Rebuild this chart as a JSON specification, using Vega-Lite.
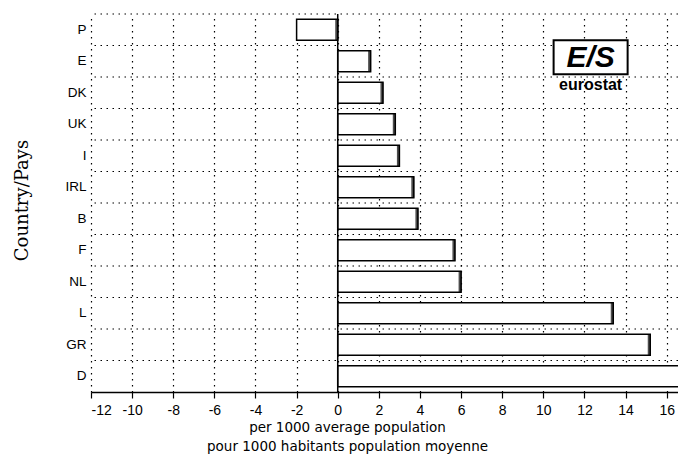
{
  "$schema": "https://vega.github.io/schema/vega-lite/v6.json",
  "width": 587,
  "height": 378,
  "autosize": {"type": "none"},
  "padding": {"left": 91, "top": 14, "right": 0, "bottom": 66},
  "background": "white",
  "data": {
    "values": [
      {"country": "P", "value": -2.0},
      {"country": "E", "value": 1.6},
      {"country": "DK", "value": 2.2},
      {"country": "UK", "value": 2.8},
      {"country": "I", "value": 3.0},
      {"country": "IRL", "value": 3.7},
      {"country": "B", "value": 3.9},
      {"country": "F", "value": 5.7},
      {"country": "NL", "value": 6.0},
      {"country": "L", "value": 13.4},
      {"country": "GR", "value": 15.2},
      {"country": "D", "value": 17.5}
    ]
  },
  "config": {
    "view": {"stroke": null},
    "axis": {
      "labelFont": "Liberation Sans",
      "labelColor": "black",
      "labelFontSize": 13.5,
      "titleColor": "black"
    }
  },
  "layer": [
    {
      "mark": {"type": "rule", "color": "black", "strokeDash": [1.5, 4.5], "strokeWidth": 1.2},
      "encoding": {
        "y": {"field": "country", "type": "nominal", "bandPosition": 0, "sort": null}
      }
    },
    {
      "mark": {"type": "bar", "fill": "white", "stroke": "black", "strokeWidth": 1.5, "height": {"band": 0.67}, "clip": true},
      "encoding": {
        "y": {
          "field": "country", "type": "nominal", "sort": null,
          "scale": {"type": "band", "paddingInner": 0, "paddingOuter": 0},
          "axis": {
            "title": "Country/Pays",
            "titleFont": "DejaVu Serif",
            "titleFontSize": 18,
            "titleFontWeight": "normal",
            "titleX": -69,
            "titleY": 186,
            "titleAlign": "center",
            "titleBaseline": "middle",
            "titleAngle": -90,
            "domain": false,
            "ticks": false,
            "labelPadding": 5
          }
        },
        "x": {
          "field": "value", "type": "quantitative",
          "scale": {"domain": [-12, 16.55], "nice": false, "zero": false},
          "axis": {
            "values": [-12, -10, -8, -6, -4, -2, 0, 2, 4, 6, 8, 10, 12, 14, 16],
            "labelExpr": "toString(datum.value)",
            "labelFontSize": 14,
            "grid": true,
            "gridColor": "black",
            "gridDash": [1.5, 4.5],
            "gridWidth": 1.2,
            "gridOpacity": 1,
            "domainColor": "black",
            "domainWidth": 1.5,
            "tickColor": "black",
            "tickSize": 6,
            "tickWidth": 1.2,
            "labelPadding": 5,
            "title": ["per 1000 average population", "pour 1000 habitants population moyenne"],
            "titleFont": "DejaVu Sans",
            "titleFontSize": 13.5,
            "titleFontWeight": "normal",
            "titleX": 256,
            "titleY": 28,
            "titleAlign": "center",
            "titleBaseline": "top",
            "titleLineHeight": 19
          }
        }
      }
    },
    {
      "transform": [{"calculate": "max(datum.value, 0)", "as": "edge"}],
      "mark": {"type": "tick", "color": "black", "orient": "vertical", "size": 21, "thickness": 3, "xOffset": -1, "clip": true},
      "encoding": {
        "y": {"field": "country", "type": "nominal", "sort": null},
        "x": {"field": "edge", "type": "quantitative"}
      }
    },
    {
      "data": {"values": [{}]},
      "mark": {"type": "rule", "color": "black", "strokeWidth": 1.5},
      "encoding": {"x": {"datum": 0}}
    },
    {
      "data": {"values": [{}]},
      "mark": {"type": "bar", "fill": "white", "stroke": "black", "strokeWidth": 2, "height": {"band": 1.08}, "yOffset": -4},
      "encoding": {
        "x": {"datum": 10.5},
        "x2": {"datum": 14.1},
        "y": {"datum": "E"}
      }
    },
    {
      "data": {"values": [{}]},
      "mark": {"type": "text", "text": "E/S", "font": "Liberation Sans", "fontWeight": "bold", "fontStyle": "italic", "fontSize": 30, "color": "black", "baseline": "middle", "align": "center", "yOffset": -3},
      "encoding": {
        "x": {"datum": 12.3},
        "y": {"datum": "E"}
      }
    },
    {
      "data": {"values": [{}]},
      "mark": {"type": "text", "text": "eurostat", "font": "Liberation Sans", "fontWeight": "bold", "fontSize": 16, "color": "black", "baseline": "middle", "align": "center", "yOffset": -8},
      "encoding": {
        "x": {"datum": 12.3},
        "y": {"datum": "DK"}
      }
    }
  ]
}
